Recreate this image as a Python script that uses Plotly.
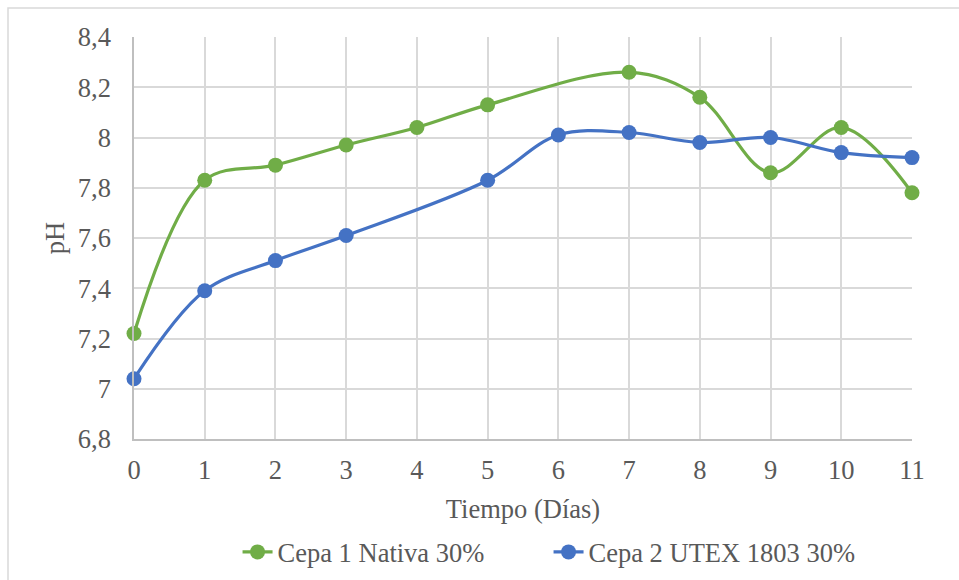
import plotly.graph_objects as go

dias = [0, 1, 2, 3, 4, 5, 6, 7, 8, 9, 10, 11]
cepa1 = [7.22, 7.83, 7.89, 7.97, 8.04, 8.13, None, 8.26, 8.16, 7.86, 8.04, 7.78]
cepa2 = [7.04, 7.39, 7.51, 7.61, None, 7.83, 8.01, 8.02, 7.98, 8.00, 7.94, 7.92]
nombres = ["Cepa 1 Nativa 30%", "Cepa 2 UTEX 1803 30%"]
colores = ["#70AD47", "#4472C4"]

FONT = "Liberation Serif, Times New Roman, serif"
TXT = "#595959"
FS = 26.5

fig = go.Figure()
for y, n, c in zip([cepa1, cepa2], nombres, colores):
    fig.add_trace(go.Scatter(
        x=dias, y=y, name=n, mode="lines+markers", connectgaps=True, cliponaxis=False,
        line=dict(color=c, width=3.2, shape="spline", smoothing=1.0),
        marker=dict(color=c, size=15),
    ))

fig.update_layout(
    width=959, height=580,
    margin=dict(l=134, r=47, t=37, b=141, autoexpand=False),
    paper_bgcolor="white", plot_bgcolor="white",
    separators=", ",
    font=dict(family=FONT, size=FS, color=TXT),
    showlegend=True,
    legend=dict(orientation="h", x=0.572, xanchor="center", xref="container",
                y=0.048, yanchor="middle", yref="container",
                entrywidth=266, entrywidthmode="pixels",
                font=dict(family=FONT, size=FS, color=TXT)),
    xaxis=dict(range=[0, 11], dtick=1, tick0=0, showgrid=True, gridcolor="#D9D9D9",
               gridwidth=1.5, showline=True, linecolor="#BFBFBF", linewidth=1.5,
               zeroline=False, ticks="", ticklabelstandoff=6, automargin=False,
               title=dict(text="Tiempo (Días)", standoff=16,
                          font=dict(family=FONT, size=FS, color=TXT))),
    yaxis=dict(range=[6.8, 8.4], dtick=0.2, tick0=6.8, showgrid=True, gridcolor="#D9D9D9",
               gridwidth=1.5, showline=True, linecolor="#BFBFBF", linewidth=1.5,
               zeroline=False, ticks="", ticklabelstandoff=16, automargin=False,
               title=dict(text="pH", standoff=6,
                          font=dict(family=FONT, size=FS, color=TXT))),
)

fig.add_shape(type="rect", xref="paper", yref="paper",
              x0=(8 - 134) / 778, x1=(959 - 134 + 20) / 778,
              y0=-(580 - 439 + 20) / 402, y1=(439 - 8) / 402,
              line=dict(color="#D9D9D9", width=1.5), fillcolor="rgba(0,0,0,0)", layer="below")

fig.write_html("out.html")
